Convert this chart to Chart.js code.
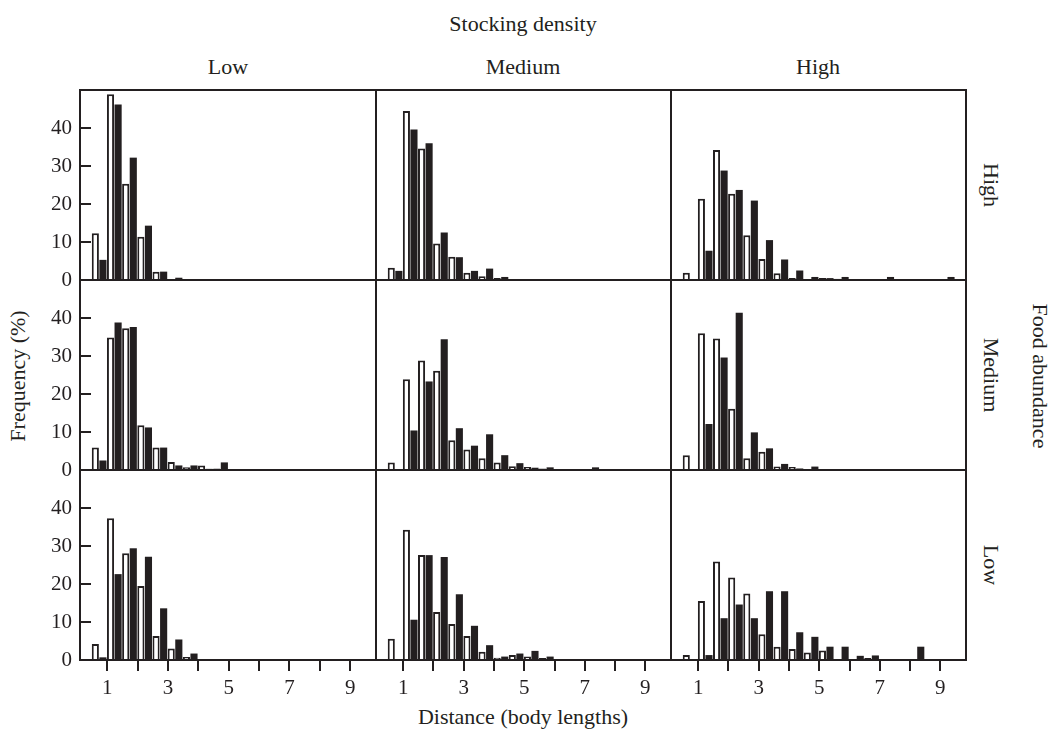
<!DOCTYPE html>
<html>
<head>
<meta charset="utf-8">
<script src="https://cdn.jsdelivr.net/npm/chart.js@4.4.1/dist/chart.umd.min.js"></script>
<style>
  html, body { margin: 0; padding: 0; background: #fff; }
  #wrap { position: relative; width: 1052px; height: 731px; overflow: hidden;
          font-family: "Liberation Serif", serif; color: #231f20; }
  #wrap canvas { position: absolute; left: 0; top: 0; }
  .lbl { position: absolute; font-size: 22px; white-space: nowrap; transform: translate(-50%, -50%); }
  .cw { transform: translate(-50%, -50%) rotate(90deg); }
  .ccw { transform: translate(-50%, -50%) rotate(-90deg); }
</style>
</head>
<body>
<div id="wrap">
  <div class="lbl" style="left:523px;top:24px">Stocking density</div>
  <div class="lbl" style="left:228px;top:67px">Low</div>
  <div class="lbl" style="left:523px;top:67px">Medium</div>
  <div class="lbl" style="left:818px;top:67px">High</div>
  <div class="lbl cw" style="left:991px;top:185px">High</div>
  <div class="lbl cw" style="left:991px;top:375px">Medium</div>
  <div class="lbl cw" style="left:991px;top:565px">Low</div>
  <div class="lbl cw" style="left:1040px;top:376px">Food abundance</div>
  <div class="lbl ccw" style="left:18px;top:376px">Frequency (%)</div>
  <div class="lbl" style="left:523px;top:717px">Distance (body lengths)</div>
</div>
<script>
const ink = '#231f20';

// bin starts, body lengths (0.5 wide)
const bins = [0.5, 1, 1.5, 2, 2.5, 3, 3.5, 4, 4.5, 5, 5.5, 6, 6.5, 7, 7.5, 8, 8.5, 9, 9.5];
const yTicks = [0, 10, 20, 30, 40];
const xTickLabels = [1, 3, 5, 7, 9];

// food high
const foodHighStockLowOpen   = [12.3, 48.9, 25.3, 11.4, 2.2, 0, 0, 0, 0, 0, 0, 0, 0, 0, 0, 0, 0, 0, 0];
const foodHighStockLowFilled = [5.3, 46.2, 32.2, 14.3, 2.2, 0.6, 0, 0, 0, 0, 0, 0, 0, 0, 0, 0, 0, 0, 0];
const foodHighStockMedOpen   = [3.2, 44.5, 34.6, 9.6, 6.1, 1.9, 1.0, 0.5, 0, 0, 0, 0, 0, 0, 0, 0, 0, 0, 0];
const foodHighStockMedFilled = [2.4, 39.6, 36.0, 12.5, 6.0, 2.4, 3.0, 0.8, 0, 0, 0, 0, 0, 0, 0, 0, 0, 0, 0];
const foodHighStockHighOpen   = [1.9, 21.4, 34.2, 22.7, 11.8, 5.5, 1.8, 0.5, 0, 0.5, 0.3, 0, 0, 0, 0, 0, 0, 0, 0];
const foodHighStockHighFilled = [0, 7.7, 28.8, 23.7, 20.9, 10.5, 5.4, 2.5, 0.8, 0.5, 0.8, 0, 0, 0.8, 0, 0, 0, 0.8, 0];

// food medium
const foodMedStockLowOpen   = [5.9, 34.9, 37.3, 11.8, 5.9, 2.1, 0.7, 1.2, 0.4, 0, 0, 0, 0, 0, 0, 0, 0, 0, 0];
const foodMedStockLowFilled = [2.5, 38.8, 37.6, 11.2, 5.9, 1.2, 1.2, 0.3, 2.0, 0, 0, 0, 0, 0, 0, 0, 0, 0, 0];
const foodMedStockMedOpen   = [2.0, 23.9, 28.8, 26.1, 7.8, 5.4, 3.1, 2.0, 1.0, 0.8, 0.4, 0, 0, 0, 0, 0, 0, 0, 0];
const foodMedStockMedFilled = [0, 10.4, 23.3, 34.4, 11.0, 6.4, 9.4, 3.9, 1.8, 0.6, 0.7, 0, 0, 0.7, 0, 0, 0, 0, 0];
const foodMedStockHighOpen   = [3.9, 36.0, 34.6, 16.1, 3.1, 4.8, 0.9, 0.8, 0, 0, 0, 0, 0, 0, 0, 0, 0, 0, 0];
const foodMedStockHighFilled = [0, 12.1, 29.6, 41.4, 9.9, 5.7, 1.6, 0.4, 0.9, 0, 0, 0, 0, 0, 0, 0, 0, 0, 0];

// food low
const foodLowStockLowOpen   = [4.2, 37.3, 28.1, 19.5, 6.3, 3.0, 0.8, 0, 0, 0, 0, 0, 0, 0, 0, 0, 0, 0, 0];
const foodLowStockLowFilled = [0.7, 22.6, 29.4, 27.2, 13.6, 5.4, 1.7, 0, 0, 0, 0, 0, 0, 0, 0, 0, 0, 0, 0];
const foodLowStockMedOpen   = [5.6, 34.3, 27.6, 12.6, 9.5, 6.3, 2.2, 0.6, 1.3, 0.9, 0.5, 0, 0, 0, 0, 0, 0, 0, 0];
const foodLowStockMedFilled = [0, 10.6, 27.6, 27.1, 17.3, 9.0, 3.9, 0.9, 1.7, 2.4, 0.9, 0, 0, 0, 0, 0, 0, 0, 0];
const foodLowStockHighOpen   = [1.3, 15.5, 25.9, 21.7, 17.5, 6.8, 3.5, 2.9, 2.0, 2.5, 0, 0, 0.5, 0, 0, 0, 0, 0, 0];
const foodLowStockHighFilled = [0, 1.3, 11.0, 14.6, 11.0, 18.1, 18.1, 7.3, 6.1, 3.5, 3.5, 1.1, 1.2, 0, 0, 3.5, 0, 0, 0];

const panels = [
  [[foodHighStockLowOpen, foodHighStockLowFilled], [foodHighStockMedOpen, foodHighStockMedFilled], [foodHighStockHighOpen, foodHighStockHighFilled]],
  [[foodMedStockLowOpen, foodMedStockLowFilled], [foodMedStockMedOpen, foodMedStockMedFilled], [foodMedStockHighOpen, foodMedStockHighFilled]],
  [[foodLowStockLowOpen, foodLowStockLowFilled], [foodLowStockMedOpen, foodLowStockMedFilled], [foodLowStockHighOpen, foodLowStockHighFilled]]
];

// panel frames on the page
const colLeft = [80, 376, 671], colRight = [376, 671, 966];
const rowTop = [90, 280, 470], rowBottom = [280, 470, 660];
const W = 1052, H = 731, Y_W = 60, X_H = 50;

Chart.defaults.font.family = '"Liberation Serif", serif';
Chart.defaults.font.size = 21;
Chart.defaults.color = ink;

const framePlugin = {
  id: 'frame',
  afterDatasetsDraw(chart, args, opts) {
    const { ctx, chartArea: a } = chart;
    ctx.save();
    ctx.strokeStyle = ink;
    ctx.lineWidth = 2;
    ctx.strokeRect(a.left, a.top, a.right - a.left, a.bottom - a.top);
    if (opts.innerTicks) {
      const ys = chart.scales.y;
      yTicks.forEach(v => {
        if (v === 0) return;
        const py = Math.round(ys.getPixelForValue(v));
        ctx.beginPath();
        ctx.moveTo(a.left, py);
        ctx.lineTo(a.left + 11, py);
        ctx.stroke();
      });
    }
    ctx.restore();
  }
};

const wrap = document.getElementById('wrap');

for (let r = 0; r < 3; r++) {
  for (let c = 0; c < 3; c++) {
    const cv = document.createElement('canvas');
    cv.width = W;
    cv.height = H;
    wrap.appendChild(cv);
    const showY = c === 0;
    const showX = r === 2;
    const [open, filled] = panels[r][c];

    const xScale = {
      type: 'linear', min: 0.1, max: 9.85, offset: false, display: showX,
      border: { display: false },
      grid: { drawOnChartArea: false, drawTicks: true, tickLength: 11, lineWidth: 2, color: ink, offset: false },
      ticks: {
        stepSize: 1, includeBounds: false, autoSkip: false, maxRotation: 0, padding: 5,
        callback: v => xTickLabels.includes(v) ? String(v) : ''
      }
    };
    if (showX) xScale.afterFit = s => { s.height = X_H; };

    const yScale = {
      min: 0, max: 50, display: showY,
      border: { display: false },
      grid: { display: false, drawTicks: false },
      ticks: { padding: 8 },
      afterBuildTicks: s => { s.ticks = yTicks.map(v => ({ value: v })); }
    };
    if (showY) yScale.afterFit = s => { s.width = Y_W; };

    new Chart(cv, {
      type: 'bar',
      data: {
        datasets: [
          {
            data: bins.map((b, i) => ({ x: b + 0.23, y: open[i] })),
            backgroundColor: '#ffffff', borderColor: ink, borderWidth: 2,
            categoryPercentage: 1, barPercentage: 0.94
          },
          {
            data: bins.map((b, i) => ({ x: b + 0.23, y: filled[i] })),
            backgroundColor: ink, borderWidth: 0,
            categoryPercentage: 1, barPercentage: 0.94
          }
        ]
      },
      options: {
        responsive: false,
        animation: false,
        devicePixelRatio: 1,
        layout: {
          autoPadding: false,
          padding: {
            left: showY ? colLeft[c] - Y_W : colLeft[c],
            right: W - colRight[c],
            top: rowTop[r],
            bottom: showX ? H - rowBottom[r] - X_H : H - rowBottom[r]
          }
        },
        plugins: {
          legend: { display: false },
          tooltip: { enabled: false },
          frame: { innerTicks: showY }
        },
        scales: { x: xScale, y: yScale }
      },
      plugins: [framePlugin]
    });
  }
}
</script>
</body>
</html>
